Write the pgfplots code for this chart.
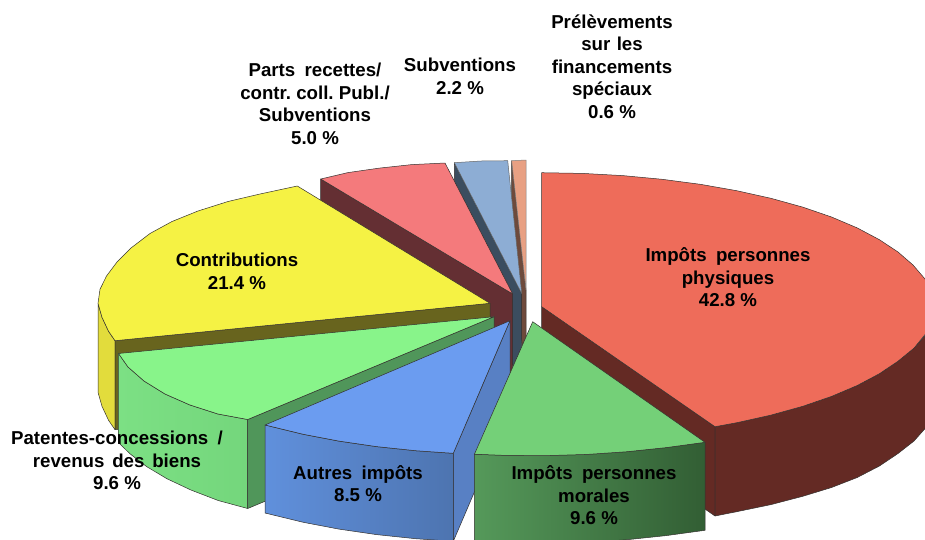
\documentclass[border=0pt]{standalone}
\usepackage{fontspec}
\setmainfont[WordSpace=1.8]{Liberation Sans}
\usepackage{pgfplots}
\pgfplotsset{compat=1.18}
\definecolor{edge}{HTML}{33302E}
\definecolor{redtop}{HTML}{EE6C5A}
\definecolor{redwall}{HTML}{642A24}
\definecolor{gtop}{HTML}{74D078}
\definecolor{gl}{HTML}{55995A}
\definecolor{gr}{HTML}{325E34}
\definecolor{btop}{HTML}{6B9CF0}
\definecolor{bwall}{HTML}{5880C4}
\definecolor{bl}{HTML}{6090DC}
\definecolor{br}{HTML}{4D74B0}
\definecolor{lgtop}{HTML}{88F48A}
\definecolor{lgwall}{HTML}{50965A}
\definecolor{lgl}{HTML}{7CE084}
\definecolor{lgr}{HTML}{74D67C}
\definecolor{ytop}{HTML}{F5F244}
\definecolor{ywall}{HTML}{68641E}
\definecolor{yrim}{HTML}{E2DC3C}
\definecolor{ptop}{HTML}{F47A7C}
\definecolor{pwall}{HTML}{642F33}
\definecolor{stop}{HTML}{8DADD4}
\definecolor{swall}{HTML}{3B4D5F}
\definecolor{satop}{HTML}{E8A083}
\definecolor{sawall}{HTML}{6E4A3C}
\tikzset{lab/.style={align=center,font=\fontsize{18.67}{22.6}\selectfont\bfseries,text=black,inner sep=0pt}}
\newcommand{\ns}{\hspace{5.2pt}}
\begin{document}
\begin{tikzpicture}
\path[use as bounding box] (0,0) rectangle (925pt,539pt);
\begin{axis}[at={(0,0)},anchor=south west,scale only axis,width=925pt,height=539pt,
  xmin=0,xmax=925,ymin=0,ymax=539,y dir=reverse,axis lines=none,no markers,
  every axis plot/.append style={draw=edge,line width=0.5pt,line join=round}]
% salmon
\addplot[fill=sawall,draw=edge] coordinates {(526,290)(511.7,160.7)(511.7,249.7)(526,379)} --cycle;
\addplot[fill=satop,draw=gray] coordinates {(511.7,160.7)(526,160)(526,290)} --cycle;
% subventions
\addplot[fill=swall] coordinates {(521.7,293.5)(454.3,162.7)(454.3,251.7)(521.7,382.5)} --cycle;
\addplot[fill=stop,draw=gray!80!black] coordinates {(521.7,293.5)(454.3,162.7)(481,161)(507.7,160.7)} --cycle;
% parts recettes
\addplot[fill=pwall] coordinates {(512.7,294)(320.7,179)(320.7,268)(512.7,383)} --cycle;
\addplot[fill=ptop] coordinates {(512.7,294)(320.7,179)(347.9,172.6)(379.3,168.1)(411.8,164.6)(445,163)} --cycle;
% contributions
\addplot[fill=yrim] coordinates {(115,340.7)(108.5,331.2)(102,317.3)(98,303.3)(98,392.3)(102,406.3)(108.5,420.2)(115,429.7)} --cycle;
\addplot[fill=ywall] coordinates {(490,303.3)(115,340.7)(115,429.7)(490,392.3)} --cycle;
\addplot[fill=ytop] coordinates {(490,303.3)(115,340.7)(108.5,331.2)(102,317.3)(98,303.3)(100,289.3)(106.5,276)(117,262)(131,248)(150,233.5)(172,221.5)(198,211)(228,201.5)(260,194)(297.3,186)} --cycle;
% patentes
\addplot[left color=lgl,right color=lgr,draw=edge] coordinates {(247.7,419.5)(218,414)(190,405)(165,394)(144,381)(128,367)(118.5,353.5)(118.5,442.5)(129.9,453.7)(146.5,466.5)(166.9,478.7)(190.9,490)(218.2,500.5)(247.7,508.5)} --cycle;
\addplot[fill=lgwall] coordinates {(494,316.7)(247.7,419.5)(247.7,508.5)(494,405.7)} --cycle;
\addplot[fill=lgtop] coordinates {(494,316.7)(247.7,419.5)(218,414)(190,405)(165,394)(144,381)(128,367)(118.5,353.5)} --cycle;
% autres
\addplot[left color=bl,right color=br,draw=edge] coordinates {(453.3,453.3)(415.7,450.7)(376.6,446.6)(339,441.1)(303.3,434.3)(265,425)(265,513)(303.3,522.3)(339,529.1)(376.6,534.6)(415.7,538.7)(453.3,541.3)} --cycle;
\addplot[fill=bwall] coordinates {(510,320.7)(453.3,453.3)(453.3,541.3)(510,408.7)} --cycle;
\addplot[fill=btop] coordinates {(510,320.7)(453.3,453.3)(415.7,450.7)(376.6,446.6)(339,441.1)(303.3,434.3)(265,425)} --cycle;
% personnes physiques
\addplot[fill=redwall] coordinates {(541.7,306.7)(715,426.7)(715,516)(541.7,395.7)} --cycle;
\addplot[fill=redwall] coordinates {(715,426.7)(736.7,422.7)(770.9,415.1)(802.7,406.3)(831.5,396.4)(857.2,385.5)(879.4,373.7)(898,361.2)(914,348.1)(926,334.6)(932,320.7)(934,306.7)(934,395.7)(932,414)(926,427.5)(914,441)(898,453.5)(879.4,466)(857.2,477.5)(831.5,487.5)(802.7,496.3)(770.9,504.6)(736.7,511.7)(715,516)} --cycle;
\addplot[fill=redtop] coordinates {(541.7,306.7)(541.7,172.7)(582.5,173.4)(622.8,175.6)(662.2,179.3)(700.3,184.3)(736.7,190.7)(770.9,198.3)(802.7,207.1)(831.5,217)(857.2,227.9)(879.4,239.7)(898,252)(913,265)(925,279)(932,292.7)(934,306.7)(932,320.7)(925,334.6)(914,348.1)(898,361.2)(879.4,373.7)(857.2,385.5)(831.5,396.4)(802.7,406.3)(770.9,415.1)(736.7,422.7)(715,426.7)} --cycle;
% personnes morales
\addplot[left color=gl,right color=gr,draw=edge] coordinates {(705,442.3)(666.1,447.6)(627,451.7)(587,454.4)(546.3,455.6)(505.5,455.4)(474.4,454.2)(474.4,542.2)(505.5,543.4)(546.3,543.6)(587,542.4)(627,539.7)(666.1,535.6)(705,530.3)} --cycle;
\addplot[fill=gtop] coordinates {(532.7,321.7)(705,442.3)(666.1,447.6)(627,451.7)(587,454.4)(546.3,455.6)(505.5,455.4)(474.4,454.2)} --cycle;
% labels
\node[lab] at (axis cs:728,277.5) {Impôts personnes\\physiques\\42.8\ns\%};
\node[lab] at (axis cs:594,495.5) {Impôts personnes\\morales\\9.6\ns\%};
\node[lab] at (axis cs:358,483.5) {Autres impôts\\8.5\ns\%};
\node[lab] at (axis cs:117,460.5) {Patentes-concessions /\\revenus\hspace{7.8pt}des\hspace{7.8pt}biens\\9.6\ns\%};
\node[lab] at (axis cs:237,271.5) {Contributions\\21.4\ns\%};
\node[lab] at (axis cs:315,104) {Parts recettes/\\contr.\ns coll.\ns Publ./\\Subventions\\5.0\ns\%};
\node[lab] at (axis cs:460,76.5) {Subventions\\2.2\ns\%};
\node[lab] at (axis cs:612,66.5) {Prélèvements\\sur\hspace{6.5pt}les\\financements\\spéciaux\\0.6\ns\%};
\end{axis}
\end{tikzpicture}
\end{document}
